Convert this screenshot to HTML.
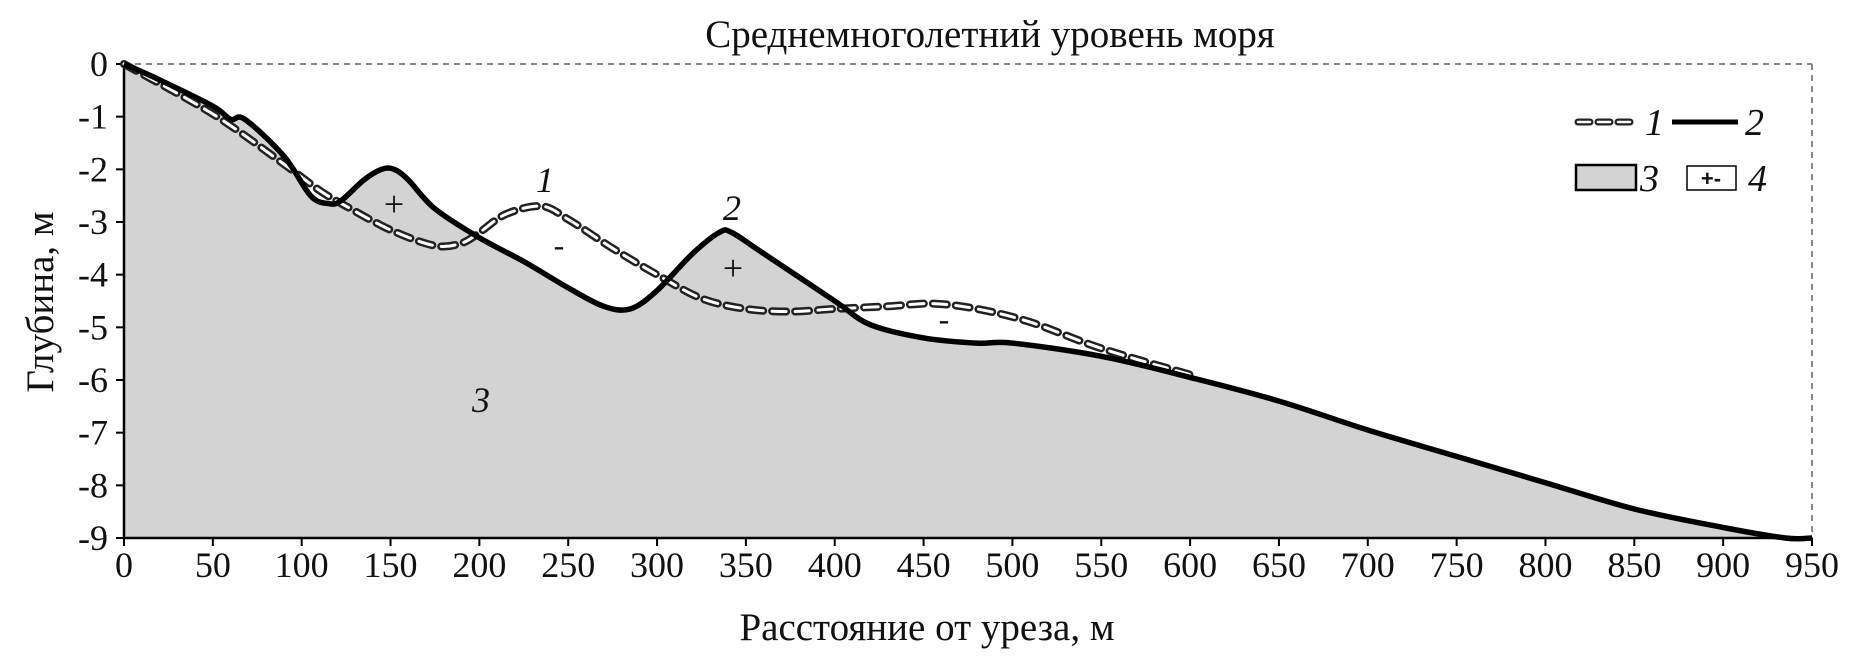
<!DOCTYPE html>
<html><head><meta charset="utf-8"><style>
body{margin:0;background:#fff;}
svg{display:block;font-family:"Liberation Serif",serif;}
</style></head><body>
<svg id="chart" width="1856" height="663" viewBox="0 0 1856 663" xmlns="http://www.w3.org/2000/svg">
<g id="plot"></g>
</svg>
<script>
const xTicks=[0,50,100,150,200,250,300,350,400,450,500,550,600,650,700,750,800,850,900,950];
const yTicks=[0,-1,-2,-3,-4,-5,-6,-7,-8,-9];
const profile2X=[0,20,50,60,68,90,105,115,122,135,145,152,160,175,200,225,250,270,285,300,320,335,342,360,400,420,450,480,500,550,600,650,700,750,800,850,900,935,950];
const profile2Y=[0,-0.3,-0.8,-1.05,-1.05,-1.75,-2.5,-2.65,-2.6,-2.2,-2.0,-2.0,-2.2,-2.75,-3.3,-3.75,-4.25,-4.6,-4.65,-4.3,-3.6,-3.2,-3.2,-3.6,-4.5,-4.95,-5.2,-5.3,-5.3,-5.55,-5.95,-6.4,-6.95,-7.45,-7.95,-8.45,-8.8,-9.0,-9.0];
const profile1X=[0,50,90,110,125,150,175,190,200,215,235,250,275,300,325,350,375,400,430,455,480,510,550,600];
const profile1Y=[0,-0.95,-1.9,-2.4,-2.7,-3.15,-3.45,-3.4,-3.2,-2.85,-2.7,-2.95,-3.5,-4.0,-4.45,-4.65,-4.7,-4.65,-4.6,-4.55,-4.65,-4.9,-5.4,-5.9];

const X0=124,X1=1812,Y0=64,Y1=538;
const sx=v=>X0+(v-0)/(950-0)*(X1-X0);
const sy=v=>Y0+(0-v)/9*(Y1-Y0);
const NS='http://www.w3.org/2000/svg';
const plotG=document.getElementById('plot');
function mk(tag,attrs,parent){const e=document.createElementNS(NS,tag);for(const k in attrs)e.setAttribute(k,attrs[k]);(parent||plotG).appendChild(e);return e;}
function smooth(xs,ys){
 const P=xs.map((x,i)=>[sx(x),sy(ys[i])]);
 let d='M'+P[0][0].toFixed(1)+','+P[0][1].toFixed(1);
 for(let i=0;i<P.length-1;i++){
  const p0=P[Math.max(0,i-1)],p1=P[i],p2=P[i+1],p3=P[Math.min(P.length-1,i+2)];
  const c1=[p1[0]+(p2[0]-p0[0])/6,p1[1]+(p2[1]-p0[1])/6];
  const c2=[p2[0]-(p3[0]-p1[0])/6,p2[1]-(p3[1]-p1[1])/6];
  d+=' C'+c1[0].toFixed(1)+','+c1[1].toFixed(1)+' '+c2[0].toFixed(1)+','+c2[1].toFixed(1)+' '+p2[0].toFixed(1)+','+p2[1].toFixed(1);
 }
 return d;
}

let area=mk('path',{d:smooth(profile2X,profile2Y)+' L'+sx(950)+','+sy(-9)+' L'+sx(0)+','+sy(-9)+' Z',fill:'#d3d3d3'});


let seaLine=mk('line',{x1:X0,y1:Y0,x2:X1,y2:Y0,stroke:'#888','stroke-width':2,'stroke-dasharray':'6,5'});


let rightBorder=mk('line',{x1:X1,y1:Y0,x2:X1,y2:Y1,stroke:'#888','stroke-width':2,'stroke-dasharray':'6,5'});


let yAxisLine=mk('line',{x1:X0,y1:Y0,x2:X0,y2:Y1,stroke:'#000','stroke-width':2.5});


let xAxisLine=mk('line',{x1:X0,y1:Y1,x2:X1,y2:Y1,stroke:'#000','stroke-width':2.5});


xTicks.forEach(t=>{
 let l=mk('line',{x1:sx(t),y1:Y1,x2:sx(t),y2:Y1+8,stroke:'#000','stroke-width':2});
 
 
 let tx=mk('text',{x:sx(t),y:Y1+39,'font-size':36,'text-anchor':'middle',fill:'#111'});
 tx.textContent=t;
 
 
});
yTicks.forEach(t=>{
 let l=mk('line',{x1:X0-8,y1:sy(t),x2:X0,y2:sy(t),stroke:'#000','stroke-width':2});
 
 
 let tx=mk('text',{x:X0-16,y:sy(t)+12,'font-size':36,'text-anchor':'end',fill:'#111'});
 tx.textContent=t===0?'0':'-'+Math.abs(t);
 
 
});
let p1o=mk('path',{d:smooth(profile1X,profile1Y),fill:'none',stroke:'#222','stroke-width':8,'stroke-dasharray':'14,9','stroke-linecap':'round'});


let p1=mk('path',{d:smooth(profile1X,profile1Y),fill:'none',stroke:'#fff','stroke-width':3,'stroke-dasharray':'14,9','stroke-linecap':'round'});


let p2=mk('path',{d:smooth(profile2X,profile2Y),fill:'none',stroke:'#000','stroke-width':5.5,'stroke-linejoin':'round'});



function txt(s,x,y,size,nm,italic,anchor){let t=mk('text',{x:x,y:y,'font-size':size,'text-anchor':anchor||'middle',fill:'#111','font-style':italic?'italic':'normal'});t.textContent=s;return t;}
txt('Среднемноголетний уровень моря',990,47,39,'sea-level-title');
txt('Расстояние от уреза, м',927,640,39,'x-axis-title');
let yt=txt('Глубина, м',0,0,39,'y-axis-title');
yt.setAttribute('transform','translate(53,302) rotate(-90)');
txt('1',545,192,36,'label-profile-1',true);
txt('2',732,220,36,'label-profile-2',true);
txt('3',481,412,36,'label-area-3',true);
txt('+',394,216,36,'plus-marker-1');
txt('-',559,256,32,'minus-marker-1');
txt('+',733,280,36,'plus-marker-2');
txt('-',944,330,32,'minus-marker-2');
let lg=mk('g',{});


let d1=mk('line',{x1:1578,y1:122,x2:1632,y2:122,stroke:'#222','stroke-width':7,'stroke-dasharray':'12,8','stroke-linecap':'round'},lg);


let d2=mk('line',{x1:1578,y1:122,x2:1632,y2:122,stroke:'#fff','stroke-width':2.5,'stroke-dasharray':'12,8','stroke-linecap':'round'},lg);


txt('1',1645,135,38,'legend-label-1',true,'start');
let s2=mk('line',{x1:1672,y1:122,x2:1738,y2:122,stroke:'#000','stroke-width':5},lg);


txt('2',1745,135,38,'legend-label-2',true,'start');
let b3=mk('rect',{x:1576,y:165,width:60,height:25,fill:'#d3d3d3',stroke:'#000','stroke-width':2.5},lg);


txt('3',1640,191,38,'legend-label-3',true,'start');
let b4=mk('rect',{x:1687,y:166,width:49,height:24,fill:'#fff',stroke:'#000','stroke-width':1.5},lg);


let pm=txt('+-',1711,186,22,'legend-diff-symbol');
pm.setAttribute('font-family','Liberation Sans, sans-serif');
pm.setAttribute('font-weight','bold');
txt('4',1748,191,38,'legend-label-4',true,'start');
</script>
</body></html>
